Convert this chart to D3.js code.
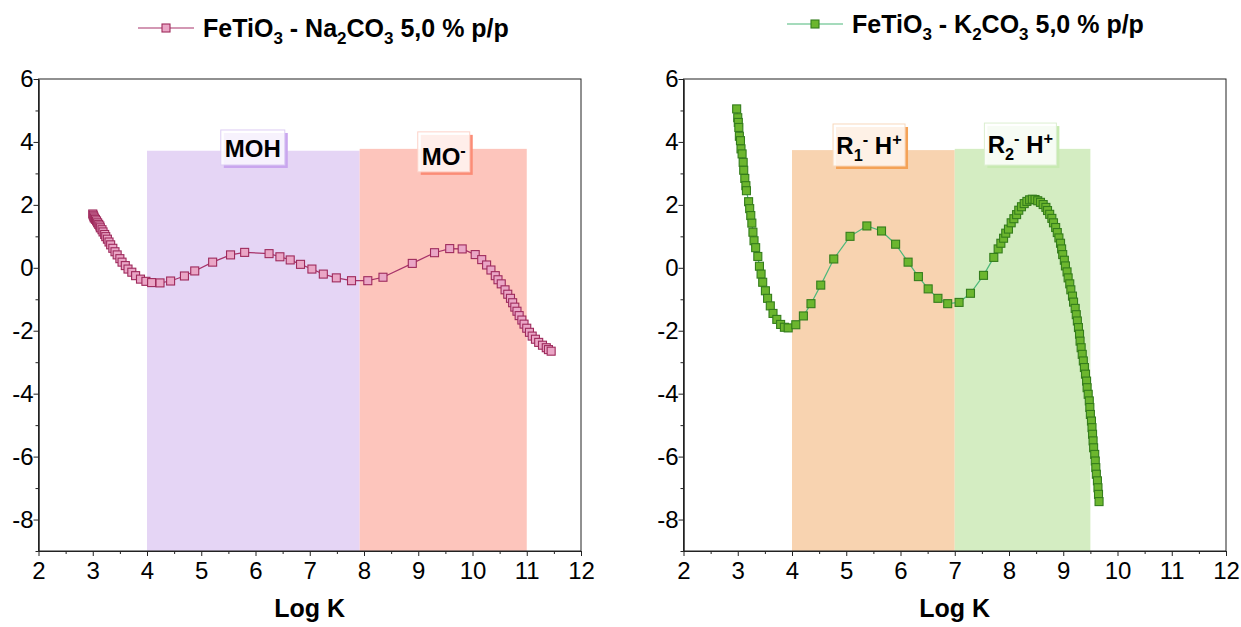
<!DOCTYPE html>
<html>
<head>
<meta charset="utf-8">
<script src="https://cdn.jsdelivr.net/npm/d3@7"></script>
<style>
  body { margin: 0; background: #fff; }
  svg { font-family: "Liberation Sans", Arial, sans-serif; }
</style>
</head>
<body>
<div id="chart"></div>
<script>
// Na2CO3 series (left panel)
var naX = [3.00,3.01,3.02,3.03,3.05,3.07,3.09,3.11,3.13,3.14,3.17,3.19,3.22,3.24,3.27,3.30,3.33,3.37,3.41,3.45,
  3.50,3.54,3.60,3.65,3.72,3.79,3.88,3.98,4.085,4.24,4.435,4.69,4.88,5.21,5.54,5.80,6.25,6.45,6.64,6.83,
  7.04,7.25,7.49,7.77,8.07,8.35,8.89,9.30,9.58,9.81,10.05,10.17,10.26,10.34,10.42,10.47,10.53,10.60,10.65,10.70,
  10.74,10.78,10.82,10.86,10.91,10.95,11.00,11.05,11.10,11.16,11.22,11.29,11.36,11.40,11.45];
var naY = [1.71,1.67,1.62,1.58,1.54,1.49,1.43,1.38,1.33,1.27,1.21,1.14,1.06,0.99,0.91,0.82,0.73,0.62,0.51,0.41,
  0.29,0.18,0.07,-0.04,-0.14,-0.25,-0.36,-0.43,-0.47,-0.48,-0.42,-0.26,-0.10,0.18,0.41,0.49,0.45,0.35,0.25,0.11,
  -0.04,-0.20,-0.32,-0.41,-0.41,-0.30,0.14,0.48,0.61,0.60,0.42,0.26,0.09,-0.07,-0.25,-0.38,-0.51,-0.70,-0.84,-0.97,
  -1.11,-1.25,-1.38,-1.52,-1.66,-1.79,-1.92,-2.05,-2.17,-2.27,-2.37,-2.46,-2.54,-2.60,-2.65];

// K2CO3 series (right panel)
var kX = [2.98,3.00,3.01,3.02,3.03,3.05,3.06,3.08,3.10,3.11,3.13,3.15,3.16,3.20,3.22,3.24,3.26,3.28,3.30,3.33,
  3.37,3.40,3.43,3.46,3.51,3.55,3.60,3.65,3.72,3.79,3.86,3.93,
  4.07,4.21,4.35,4.53,4.77,5.07,5.38,5.65,5.91,6.14,6.33,6.51,6.69,6.87,7.08,7.29,7.53,7.72,
  7.80,7.85,7.90,7.94,7.99,8.04,8.09,8.14,8.18,8.23,8.28,8.33,8.38,8.43,
  8.48,8.53,8.58,8.63,8.68,8.71,8.75,8.79,8.82,8.86,8.89,8.92,8.95,8.97,8.99,9.02,9.04,9.07,9.09,9.12,
  9.14,9.17,9.19,9.22,9.24,9.26,9.28,9.30,9.31,9.33,9.35,9.37,9.39,9.41,9.43,9.44,9.46,9.48,9.49,9.50,
  9.52,9.53,9.54,9.55,9.56,9.58,9.59,9.60,9.61,9.63,9.64,9.65,9.66];
var kY = [5.05,4.77,4.62,4.46,4.18,4.04,3.78,3.62,3.35,3.10,2.84,2.61,2.45,2.10,1.88,1.66,1.42,1.13,0.86,0.64,
  0.36,0.05,-0.20,-0.46,-0.73,-0.97,-1.21,-1.45,-1.64,-1.80,-1.89,-1.91,
  -1.81,-1.53,-1.14,-0.55,0.28,1.00,1.33,1.17,0.75,0.18,-0.28,-0.67,-0.97,-1.14,-1.10,-0.81,-0.24,0.33,
  0.60,0.78,0.94,1.10,1.23,1.43,1.56,1.69,1.83,1.94,2.04,2.11,2.16,2.18,
  2.17,2.13,2.08,2.01,1.92,1.82,1.70,1.57,1.43,1.28,1.12,0.95,0.78,0.60,0.42,0.24,0.06,-0.13,-0.32,-0.51,
  -0.70,-0.90,-1.09,-1.29,-1.49,-1.69,-1.90,-2.11,-2.33,-2.54,-2.75,-2.96,-3.17,-3.38,-3.60,-3.81,-4.02,-4.23,-4.44,-4.66,
  -4.87,-5.08,-5.29,-5.50,-5.72,-5.93,-6.14,-6.35,-6.56,-6.77,-6.99,-7.20,-7.43];

// shaded zones: [from, to, top]
var naZones = [[4, 7.92, 3.72], [7.92, 11.0, 3.78]];
var kZones = [[4, 7.0, 3.74], [7.0, 9.5, 3.78]];

var xTicks = [2, 3, 4, 5, 6, 7, 8, 9, 10, 11, 12];
var xMinor = [2.5, 3.5, 4.5, 5.5, 6.5, 7.5, 8.5, 9.5, 10.5, 11.5];
var yTicks = [-8, -6, -4, -2, 0, 2, 4, 6];
var yMinor = [-9, -7, -5, -3, -1, 1, 3, 5];

var W = 1241, H = 627;
var svg = d3.select("#chart").append("svg")
  .attr("width", W)
  .attr("height", H);

// write text with sub/superscripts: parts = [[text, "n"|"sub"|"sup"], ...]
function richText(g, x, y, size, parts, anchor) {
  var t = g.append("text")
    .attr("x", x)
    .attr("y", y)
    .attr("font-size", size)
    .attr("font-weight", "bold")
    .attr("fill", "#000")
    .attr("text-anchor", anchor || "start");
  var shift = 0;
  parts.forEach(function (p) {
    var dy = 0, fs = size;
    if (p[1] == "sub") { dy = size * 0.28; fs = size * 0.68; }
    if (p[1] == "sup") { dy = -size * 0.38; fs = size * 0.68; }
    t.append("tspan")
      .attr("dy", dy - shift)
      .attr("font-size", fs)
      .text(p[0]);
    shift = dy;
  });
  return t;
}

function panel(opts) {
  var g = svg.append("g");
  var x = d3.scaleLinear().domain([2, 12]).range([opts.left, opts.left + 542.5]);
  var y = d3.scaleLinear().domain([-9, 6]).range([551, 79]);

  // shaded zones
  g.selectAll("rect.zone")
    .data(opts.zones)
    .enter().append("rect")
    .attr("class", "zone")
    .attr("x", function (d) { return x(d[0]); })
    .attr("y", function (d) { return y(d[2]); })
    .attr("width", function (d) { return x(d[1]) - x(d[0]); })
    .attr("height", function (d) { return y(-9) - y(d[2]); })
    .attr("fill", function (d, i) { return opts.zoneColors[i]; });

  // zone labels
  opts.labels.forEach(function (lb) {
    var bx = x(lb.x) - lb.w / 2, by = y(lb.y);
    g.append("rect")
      .attr("x", bx + 3).attr("y", by + 3)
      .attr("width", lb.w).attr("height", lb.h)
      .attr("fill", lb.shadow);
    g.append("rect")
      .attr("x", bx).attr("y", by)
      .attr("width", lb.w).attr("height", lb.h)
      .attr("fill", "#fff")
      .attr("fill-opacity", 0.85)
      .attr("stroke", lb.border)
      .attr("stroke-width", 1);
    richText(g, x(lb.x), by + lb.base, 24, lb.parts, "middle");
  });

  // frame
  g.append("rect")
    .attr("x", x(2)).attr("y", y(6))
    .attr("width", x(12) - x(2)).attr("height", y(-9) - y(6))
    .attr("fill", "none")
    .attr("stroke", "#222")
    .attr("stroke-width", 1);

  // axes
  var xa = g.append("g")
    .attr("transform", "translate(0," + y(-9) + ")")
    .call(d3.axisBottom(x).tickValues(xTicks).tickSize(5).tickSizeOuter(0).tickFormat(d3.format("d")));
  g.append("g")
    .attr("transform", "translate(0," + y(-9) + ")")
    .call(d3.axisBottom(x).tickValues(xMinor).tickSize(3).tickSizeOuter(0).tickFormat(""));
  var ya = g.append("g")
    .attr("transform", "translate(" + x(2) + ",0)")
    .call(d3.axisLeft(y).tickValues(yTicks).tickSize(5).tickSizeOuter(0).tickFormat(d3.format("d")));
  g.append("g")
    .attr("transform", "translate(" + x(2) + ",0)")
    .call(d3.axisLeft(y).tickValues(yMinor).tickSize(3).tickSizeOuter(0).tickFormat(""));
  g.selectAll(".domain").attr("stroke", "#222");
  g.selectAll(".tick line").attr("stroke", "#222");
  xa.selectAll("text").attr("font-size", 24).attr("font-family", "Liberation Sans, Arial").attr("fill", "#000").attr("dy", "0.85em");
  ya.selectAll("text").attr("font-size", 24).attr("font-family", "Liberation Sans, Arial").attr("fill", "#000").attr("x", -5).text(function (d) { return d; });

  g.append("text")
    .attr("x", (x(2) + x(12)) / 2)
    .attr("y", 617)
    .attr("text-anchor", "middle")
    .attr("font-size", 25)
    .attr("font-weight", "bold")
    .text("Log K");

  // series line + markers
  var pts = opts.xs.map(function (v, i) { return [v, opts.ys[i]]; });
  var line = d3.line()
    .x(function (d) { return x(d[0]); })
    .y(function (d) { return y(d[1]); });
  g.append("path")
    .datum(pts)
    .attr("d", line)
    .attr("fill", "none")
    .attr("stroke", opts.lineColor)
    .attr("stroke-width", 1.2);
  var s = 8;
  g.selectAll("rect.pt")
    .data(pts)
    .enter().append("rect")
    .attr("class", "pt")
    .attr("x", function (d) { return x(d[0]) - s / 2; })
    .attr("y", function (d) { return y(d[1]) - s / 2; })
    .attr("width", s).attr("height", s)
    .attr("fill", opts.fill)
    .attr("stroke", opts.stroke)
    .attr("stroke-width", 1.1);

  // legend
  var lx = opts.legend[0], ly = opts.legend[1];
  g.append("line")
    .attr("x1", lx).attr("x2", lx + 56)
    .attr("y1", ly).attr("y2", ly)
    .attr("stroke", opts.lineColor)
    .attr("stroke-width", 1.2);
  g.append("rect")
    .attr("x", lx + 28 - s / 2).attr("y", ly - s / 2)
    .attr("width", s).attr("height", s)
    .attr("fill", opts.fill)
    .attr("stroke", opts.stroke)
    .attr("stroke-width", 1.1);
  richText(g, lx + 65, ly + 9, 25, opts.title);
}

panel({
  left: 38.5,
  xs: naX, ys: naY,
  zones: naZones,
  zoneColors: ["#e5d5f5", "#fdc5bc"],
  lineColor: "#a8336a", fill: "#eaa6c6", stroke: "#9e2a5c",
  legend: [138, 28],
  title: [["FeTiO", "n"], ["3", "sub"], [" - Na", "n"], ["2", "sub"], ["CO", "n"], ["3", "sub"], [" 5,0 % p/p", "n"]],
  labels: [
    { x: 5.95, y: 4.38, w: 64, h: 35, base: 27, parts: [["MOH", "n"]], shadow: "#c9a6ee", border: "#ddcdf4" },
    { x: 9.47, y: 4.32, w: 52, h: 40, base: 33, parts: [["MO", "n"], ["-", "sup"]], shadow: "#fb8c76", border: "#fdd2c8" }
  ]
});

panel({
  left: 683.5,
  xs: kX, ys: kY,
  zones: kZones,
  zoneColors: ["#f8d3b0", "#d4edc2"],
  lineColor: "#4cb87a", fill: "#6cb62e", stroke: "#347d1c",
  legend: [787, 24],
  title: [["FeTiO", "n"], ["3", "sub"], [" - K", "n"], ["2", "sub"], ["CO", "n"], ["3", "sub"], [" 5,0 % p/p", "n"]],
  labels: [
    { x: 5.42, y: 4.57, w: 72, h: 42, base: 30, parts: [["R", "n"], ["1", "sub"], ["-", "sup"], [" H", "n"], ["+", "sup"]], shadow: "#f4a257", border: "#f8d8bc" },
    { x: 8.21, y: 4.60, w: 72, h: 42, base: 30, parts: [["R", "n"], ["2", "sub"], ["-", "sup"], [" H", "n"], ["+", "sup"]], shadow: "#c8eab2", border: "#dcefd0" }
  ]
});
</script>
</body>
</html>
